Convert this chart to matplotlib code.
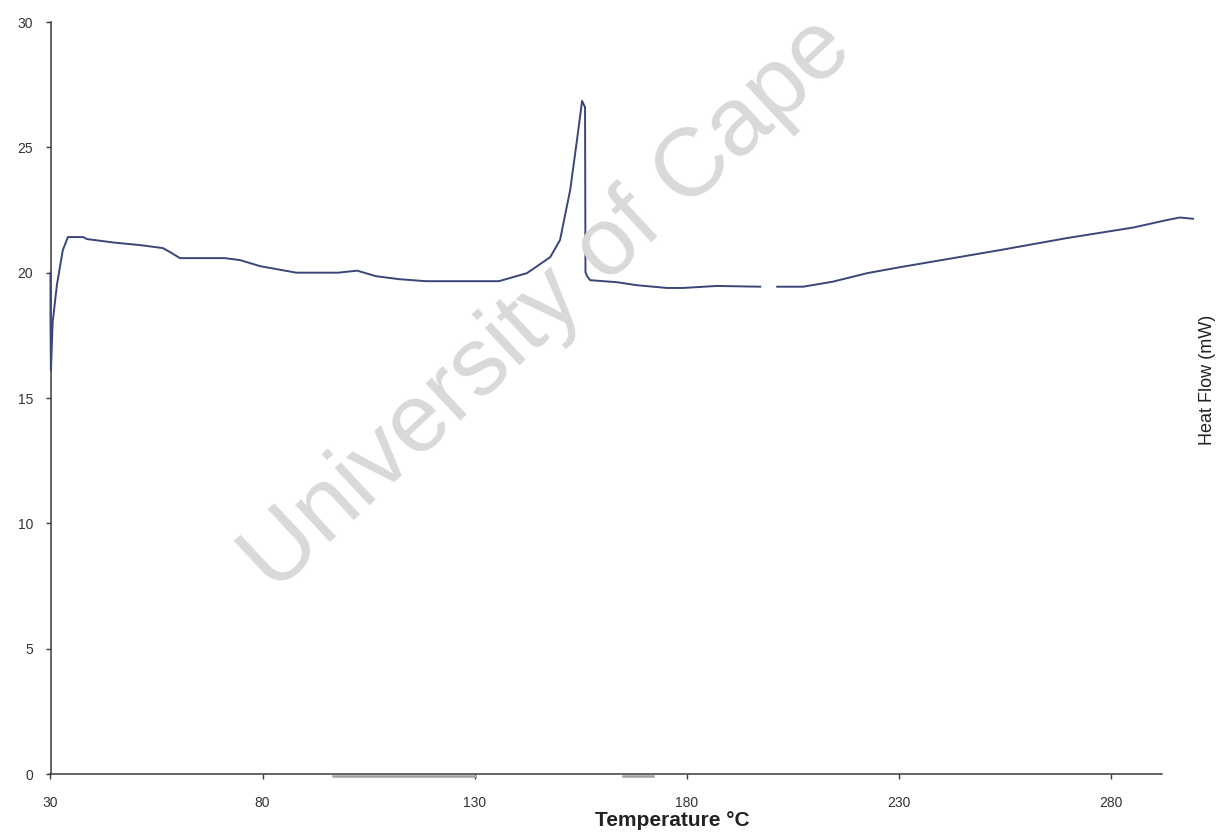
import numpy as np
import matplotlib
matplotlib.use("Agg")
import matplotlib.pyplot as plt

plt.rcParams['font.family'] = ['Liberation Sans', 'DejaVu Sans']

# DSC trace: temperature (°C) and heat flow (mW); NaN marks a break in the trace
temperature = [30.0, 30.0, 30.1, 30.5, 31.5, 32.9, 34.1, 37.7, 38.6, 45.0,
               51.1, 56.5, 58.2, 60.5, 71.1, 74.7, 79.4, 87.9, 97.8, 102.3,
               106.7, 112.2, 118.5, 135.7, 142.3, 147.8, 150.1, 152.5, 154.1, 155.3,
               156.0, 156.1, 156.5, 157.2, 163.5, 168.2, 175.3, 179.1, 187.1, 197.3,
               np.nan, 201.3, 207.4, 214.4, 222.5, 230.3, 253.8, 269.6, 285.2, 293.2,
               296.2, 299.3]
heat_flow = [20.0, 18.1, 16.1, 18.0, 19.5, 20.9, 21.42, 21.42, 21.34, 21.2,
             21.1, 20.98, 20.82, 20.58, 20.58, 20.5, 20.26, 20.0, 20.0, 20.08,
             19.86, 19.74, 19.66, 19.66, 19.98, 20.62, 21.3, 23.3, 25.29, 26.85,
             26.6, 20.02, 19.86, 19.7, 19.62, 19.5, 19.39, 19.39, 19.47, 19.44,
             np.nan, 19.44, 19.44, 19.64, 19.98, 20.22, 20.9, 21.38, 21.8, 22.1,
             22.2, 22.15]

# faint baseline fragments lying along zero
base_temp = [96.5, 130.0, np.nan, 165.0, 172.0]
base_flow = [-0.06, -0.06, np.nan, -0.06, -0.06]

x_ticks = [30, 80, 130, 180, 230, 280]
y_ticks = [0, 5, 10, 15, 20, 25, 30]

fig = plt.figure(figsize=(12.2, 8.32), dpi=100)
ax = fig.add_axes([50.5 / 1220, 1 - 774 / 832, (1162 - 50.5) / 1220, (774 - 22) / 832])

ax.plot(temperature, heat_flow, color='#3a4578', lw=1.4, clip_on=False, zorder=3)
ax.plot(base_temp, base_flow, color='#a0a0a0', lw=1.8, clip_on=False, zorder=2)

ax.set_xlim(30, 292)
ax.set_ylim(0, 30)
ax.set_xticks(x_ticks)
ax.set_yticks(y_ticks)

for side in ('top', 'right'):
    ax.spines[side].set_visible(False)
for side in ('left', 'bottom'):
    ax.spines[side].set_color('#3a3a3a')
    ax.spines[side].set_linewidth(1.1)

ax.tick_params(axis='both', colors='#3a3a3a', labelcolor='#333333',
               labelsize=10, length=3.5, width=1)
ax.tick_params(axis='y', pad=9)
ax.tick_params(axis='x', pad=12)

fig.text(672 / 1220, 1 - 821 / 832, 'Temperature °C', ha='center', va='center',
         fontsize=15, fontweight='bold', color='#222222')
fig.text(1207 / 1220, 1 - 380 / 832, 'Heat Flow (mW)', ha='center', va='center',
         rotation=90, fontsize=13, color='#222222')

# watermark
fig.text(548 / 1220, 1 - 305 / 832, 'University of Cape', ha='center', va='center',
         rotation=43, rotation_mode='anchor', fontsize=70, color='#d9d9d9', zorder=0)

fig.savefig('out.png', dpi=100, facecolor='white')
